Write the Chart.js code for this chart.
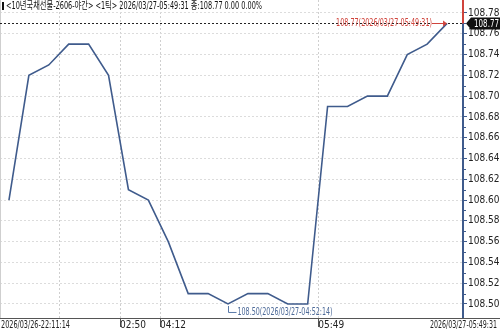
<!DOCTYPE html>
<html>
<head>
<meta charset="utf-8">
<script src="https://cdn.jsdelivr.net/npm/chart.js@4.4.1/dist/chart.umd.min.js"></script>
<style>
  html, body { margin: 0; padding: 0; background: #fff; }
  #wrap { width: 500px; height: 332px; }
</style>
</head>
<body>
<div id="wrap"><canvas id="chart" width="500" height="332"></canvas></div>
<script>
// 1-tick prices, one per tick in order
const prices = [108.60, 108.72, 108.73, 108.75, 108.75, 108.72, 108.61, 108.60,
  108.56, 108.51, 108.51, 108.50, 108.51, 108.51, 108.50, 108.50,
  108.69, 108.69, 108.70, 108.70, 108.74, 108.75, 108.77];

// time grid lines, placed on the tick index axis
const timeTickIdx = [2.56, 5.58, 7.59, 15.53];
const timeTickLabels = ["", "02:50", "04:12", "05:49"];
const startLabel = "2026/03/26-22:11:14";
const endLabel = "2026/03/27-05:49:31";

const priceTicks = [108.50, 108.52, 108.54, 108.56, 108.58, 108.60, 108.62,
  108.64, 108.66, 108.68, 108.70, 108.72, 108.74, 108.76, 108.78];

const titleText = "<10년국채선물-2606-야간> <1틱> 2026/03/27-05:49:31 종:108.77 0.00 0.00%";
const lastNote = "108.77(2026/03/27-05:49:31)";
const minNote = "108.50(2026/03/27-04:52:14)";

const FONT = '"Liberation Sans Narrow", "DejaVu Sans Condensed", "Noto Sans CJK KR", sans-serif';
const lineBlue = "#3f5b8c";
const priceRed = "#d0443c";

// draws text squeezed/stretched to a given width
function fitText(ctx, text, x, y, width, align) {
  const w = ctx.measureText(text).width;
  const k = width / w;
  ctx.save();
  ctx.textAlign = "left";
  const x0 = align === "right" ? x - width : x;
  ctx.translate(x0, y);
  ctx.scale(k, 1);
  ctx.fillText(text, 0, 0);
  ctx.restore();
}

const overlay = {
  id: "overlay",
  afterDraw(chart) {
    const { ctx, chartArea } = chart;
    const xs = chart.scales.x;
    const ys = chart.scales.y;
    const lastI = prices.length - 1;
    const lastV = prices[lastI];
    const minV = Math.min(...prices);
    const minI = prices.indexOf(minV);
    const yLast = Math.round(ys.getPixelForValue(lastV)) + 0.5;
    const xLast = xs.getPixelForValue(lastI);

    ctx.save();
    ctx.textBaseline = "middle";

    // title
    ctx.font = "10px " + FONT;
    ctx.fillStyle = "#111";
    ctx.fillRect(2, 2, 2, 8);
    fitText(ctx, titleText, 6, 6, 256, "left");

    ctx.font = "10px " + FONT;

    // left border
    ctx.strokeStyle = "#cfcfcf";
    ctx.lineWidth = 1;
    ctx.beginPath();
    ctx.moveTo(0.5, 0);
    ctx.lineTo(0.5, chartArea.bottom);
    ctx.stroke();

    // bottom axis line runs under the price axis too
    ctx.strokeStyle = "#555";
    ctx.beginPath();
    ctx.moveTo(0, chartArea.bottom + 0.5);
    ctx.lineTo(500, chartArea.bottom + 0.5);
    ctx.stroke();

    // minor ticks on the price axis
    ctx.strokeStyle = lineBlue;
    for (let i = 0; i < priceTicks.length - 1; i++) {
      const ym = Math.round(ys.getPixelForValue((priceTicks[i] + priceTicks[i + 1]) / 2)) + 0.5;
      ctx.beginPath();
      ctx.moveTo(chartArea.right, ym);
      ctx.lineTo(chartArea.right + 3, ym);
      ctx.stroke();
    }

    // red part of the price axis above the last price
    ctx.fillStyle = priceRed;
    ctx.fillRect(chartArea.right - 1, 0, 2, yLast);

    // dashed last-price line
    ctx.strokeStyle = "#222";
    ctx.setLineDash([2, 2]);
    ctx.beginPath();
    ctx.moveTo(0, yLast);
    ctx.lineTo(chartArea.right, yLast);
    ctx.stroke();
    ctx.setLineDash([]);

    // last-price box
    const bx = chartArea.right + 3;
    ctx.fillStyle = "#111";
    ctx.beginPath();
    ctx.moveTo(bx, yLast);
    ctx.lineTo(bx + 5, yLast - 6);
    ctx.lineTo(500, yLast - 6);
    ctx.lineTo(500, yLast + 6);
    ctx.lineTo(bx + 5, yLast + 6);
    ctx.closePath();
    ctx.fill();
    ctx.fillStyle = "#fff";
    fitText(ctx, lastV.toFixed(2), bx + 8, yLast + 0.5, 25, "left");

    // last-price note with arrow
    ctx.fillStyle = priceRed;
    ctx.strokeStyle = priceRed;
    fitText(ctx, lastNote, xLast - 15, yLast, 96, "right");
    ctx.beginPath();
    ctx.moveTo(xLast - 15, yLast);
    ctx.lineTo(xLast - 1, yLast);
    ctx.stroke();
    ctx.beginPath();
    ctx.moveTo(xLast, yLast);
    ctx.lineTo(xLast - 4, yLast - 3);
    ctx.lineTo(xLast - 4, yLast + 3);
    ctx.closePath();
    ctx.fill();

    // minimum note
    const mx = Math.round(xs.getPixelForValue(minI)) + 0.5;
    const my = ys.getPixelForValue(minV);
    ctx.strokeStyle = "#5a7aa8";
    ctx.fillStyle = "#4d6a98";
    ctx.beginPath();
    ctx.moveTo(mx, my + 2);
    ctx.lineTo(mx, my + 8.5);
    ctx.lineTo(mx + 8, my + 8.5);
    ctx.stroke();
    fitText(ctx, minNote, mx + 9, my + 8, 95, "left");

    // end labels of the time axis
    ctx.fillStyle = "#222";
    fitText(ctx, startLabel, 1, chartArea.bottom + 7.5, 69, "left");
    fitText(ctx, endLabel, 497, chartArea.bottom + 7.5, 67, "right");

    ctx.restore();
  },
};

new Chart(document.getElementById("chart"), {
  type: "line",
  data: {
    datasets: [
      {
        data: prices.map((v, i) => ({ x: i, y: v })),
        borderColor: lineBlue,
        borderWidth: 1.6,
        pointRadius: 0,
        tension: 0,
      },
    ],
  },
  options: {
    responsive: false,
    animation: false,
    layout: { padding: 0 },
    plugins: { legend: { display: false }, tooltip: { enabled: false } },
    scales: {
      x: {
        type: "linear",
        min: -0.45,
        max: 22.8,
        afterBuildTicks: (s) => { s.ticks = timeTickIdx.map((v) => ({ value: v })); },
        afterFit: (s) => {
          s.height = 14;
          s.paddingLeft = 0;
          s.paddingRight = 0;
        },
        ticks: {
          callback: (v, i) => timeTickLabels[i],
          align: "start",
          autoSkip: false,
          maxRotation: 0,
          padding: -8,
          color: "#222",
          font: { family: FONT, size: 10 },
        },
        grid: {
          color: "#cfcfcf",
          tickColor: (c) => (timeTickLabels[c.index] ? "#555" : "rgba(0,0,0,0)"),
          tickLength: 9,
        },
        border: { display: false, dash: [2, 2] },
      },
      y: {
        type: "linear",
        position: "right",
        min: 108.4865,
        max: 108.7925,
        afterBuildTicks: (s) => { s.ticks = priceTicks.map((v) => ({ value: v })); },
        afterFit: (s) => {
          s.width = 37;
          s.paddingTop = 0;
          s.paddingBottom = 0;
        },
        ticks: {
          callback: (v) => v.toFixed(2),
          padding: 1,
          color: "#222",
          font: { family: FONT, size: 10 },
        },
        grid: { color: "#dcdcdc", tickColor: lineBlue, tickLength: 4 },
        border: { display: true, color: lineBlue, width: 2, dash: [2, 2] },
      },
    },
  },
  plugins: [overlay],
});
</script>
</body>
</html>
